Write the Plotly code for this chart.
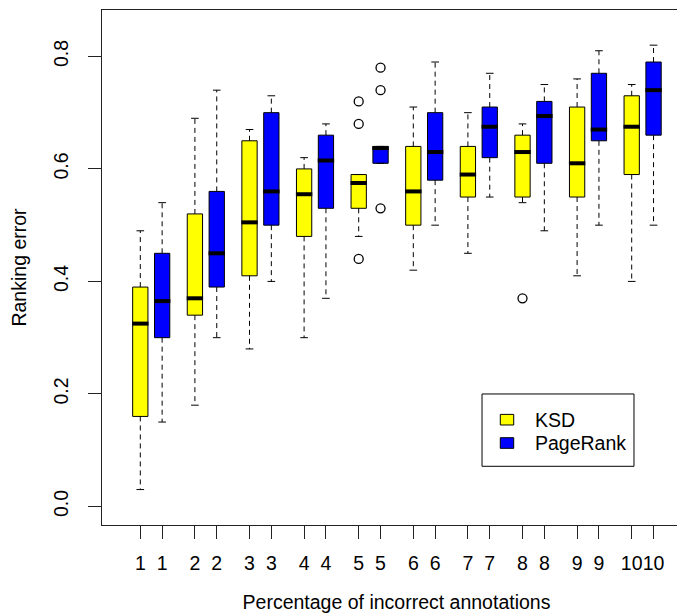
import plotly.graph_objects as go

# ---- data ----
groups = [1, 2, 3, 4, 5, 6, 7, 8, 9, 10]
tick_labels = [str(g) for g in groups]

ksd_lower = [0.03, 0.18, 0.28, 0.30, 0.48, 0.42, 0.45, 0.54, 0.41, 0.40]
ksd_q1 = [0.16, 0.34, 0.41, 0.48, 0.53, 0.50, 0.55, 0.55, 0.55, 0.59]
ksd_median = [0.325, 0.37, 0.505, 0.555, 0.575, 0.56, 0.59, 0.63, 0.61, 0.675]
ksd_q3 = [0.39, 0.52, 0.65, 0.60, 0.59, 0.64, 0.64, 0.66, 0.71, 0.73]
ksd_upper = [0.49, 0.69, 0.67, 0.62, 0.59, 0.71, 0.70, 0.68, 0.76, 0.75]
ksd_outliers = {5: [0.72, 0.68, 0.44], 8: [0.37]}

pr_lower = [0.15, 0.30, 0.40, 0.37, 0.61, 0.50, 0.55, 0.49, 0.50, 0.50]
pr_q1 = [0.30, 0.39, 0.50, 0.53, 0.61, 0.58, 0.62, 0.61, 0.65, 0.66]
pr_median = [0.365, 0.45, 0.56, 0.615, 0.637, 0.63, 0.675, 0.694, 0.67, 0.74]
pr_q3 = [0.45, 0.56, 0.70, 0.66, 0.64, 0.70, 0.71, 0.72, 0.77, 0.79]
pr_upper = [0.54, 0.74, 0.73, 0.68, 0.64, 0.79, 0.77, 0.75, 0.81, 0.82]
pr_outliers = {5: [0.78, 0.74, 0.53]}

series_names = ["KSD", "PageRank"]
series_colors = ["#ffff00", "#0000ff"]

y_ticks = [0.0, 0.2, 0.4, 0.6, 0.8]

# ---- layout constants ----
pair_offset = 0.4
box_w = 0.28
staple_w = box_w * 0.5
FONT = "Liberation Sans, Arial, sans-serif"
FS = 19.5

ksd_x = [g for g in groups]
pr_x = [g + pair_offset for g in groups]

fig = go.Figure()


def add_series(xs, lower, q1, med, q3, upper, outliers, color, name):
    fig.add_trace(go.Bar(
        x=xs, y=[b - a for a, b in zip(q1, q3)], base=q1, width=box_w,
        marker=dict(color=color, line=dict(color="black", width=1)),
        name=name, showlegend=False, hoverinfo="skip"))
    wx, wy, sx, sy, mx, my = [], [], [], [], [], []
    for x, lo, a, m, b, hi in zip(xs, lower, q1, med, q3, upper):
        if hi > b:
            wx += [x, x, None]
            wy += [b, hi, None]
        if lo < a:
            wx += [x, x, None]
            wy += [a, lo, None]
        sx += [x - staple_w / 2, x + staple_w / 2, None,
               x - staple_w / 2, x + staple_w / 2, None]
        sy += [hi, hi, None, lo, lo, None]
        mx += [x - box_w / 2 - 0.01, x + box_w / 2 + 0.01, None]
        my += [m, m, None]
    fig.add_trace(go.Scatter(x=wx, y=wy, mode="lines", showlegend=False,
                             line=dict(color="black", width=1, dash="5px,4px"),
                             hoverinfo="skip"))
    fig.add_trace(go.Scatter(x=sx, y=sy, mode="lines", showlegend=False,
                             line=dict(color="black", width=1), hoverinfo="skip"))
    fig.add_trace(go.Scatter(x=mx, y=my, mode="lines", showlegend=False,
                             line=dict(color="black", width=4), hoverinfo="skip"))
    ox, oy = [], []
    for g, vals in outliers.items():
        x = xs[groups.index(g)]
        for v in vals:
            ox.append(x)
            oy.append(v)
    if ox:
        fig.add_trace(go.Scatter(x=ox, y=oy, mode="markers", showlegend=False,
                                 marker=dict(symbol="circle-open", size=9,
                                             color="black", line=dict(width=1.3)),
                                 hoverinfo="skip"))


add_series(ksd_x, ksd_lower, ksd_q1, ksd_median, ksd_q3, ksd_upper,
           ksd_outliers, series_colors[0], series_names[0])
add_series(pr_x, pr_lower, pr_q1, pr_median, pr_q3, pr_upper,
           pr_outliers, series_colors[1], series_names[1])

tickvals = []
ticktext = []
for k, g in enumerate(groups):
    tickvals += [ksd_x[k], pr_x[k]]
    ticktext += [tick_labels[k], tick_labels[k]]

# ---- legend (R-style box legend, paper coords of the plotting region) ----
leg_x0, leg_x1, leg_y0, leg_y1 = 0.6452, 0.9032, 0.114, 0.2544
fig.add_shape(type="rect", xref="paper", yref="paper",
              x0=leg_x0, x1=leg_x1, y0=leg_y0, y1=leg_y1,
              line=dict(color="black", width=1), fillcolor="white",
              layer="above")
sym_x0, sym_x1, sym_h = 0.6762, 0.6990, 0.0206
text_x = 0.7317
row_y = [0.2045, 0.1592]
for name, color, yc in zip(series_names, series_colors, row_y):
    fig.add_shape(type="rect", xref="paper", yref="paper",
                  x0=sym_x0, x1=sym_x1, y0=yc - sym_h / 2, y1=yc + sym_h / 2,
                  line=dict(color="black", width=1), fillcolor=color,
                  layer="above")
    fig.add_annotation(xref="paper", yref="paper", x=text_x, y=yc,
                       xanchor="left", yanchor="middle", text=name,
                       showarrow=False,
                       font=dict(family=FONT, size=FS, color="black"))

fig.update_layout(
    width=685, height=616,
    margin=dict(l=94, r=2, t=2, b=99),
    paper_bgcolor="white", plot_bgcolor="white",
    font=dict(family=FONT, size=FS, color="black"),
    barmode="overlay",
    showlegend=False,
    xaxis=dict(range=[0.2985, 11.086], tickmode="array", tickvals=tickvals,
               ticktext=ticktext, tickangle=0, ticks="outside", ticklen=13,
               ticklabelstandoff=8,
               tickcolor="#222", showline=True, mirror=True, linecolor="#222",
               linewidth=1, showgrid=False, zeroline=False,
               title=dict(text="Percentage of incorrect annotations",
                          standoff=21, font=dict(size=FS))),
    yaxis=dict(range=[-0.033, 0.8825], tickmode="array", tickvals=y_ticks,
               ticktext=[f"{v:.1f}" for v in y_ticks], tickangle=-90,
               ticks="outside", ticklen=13, ticklabelstandoff=12,
               tickcolor="#222", showline=True,
               mirror=True, linecolor="#222", linewidth=1, showgrid=False,
               zeroline=False,
               title=dict(text="Ranking error", standoff=24,
                          font=dict(size=FS))),
)

fig.write_html("out.html")
